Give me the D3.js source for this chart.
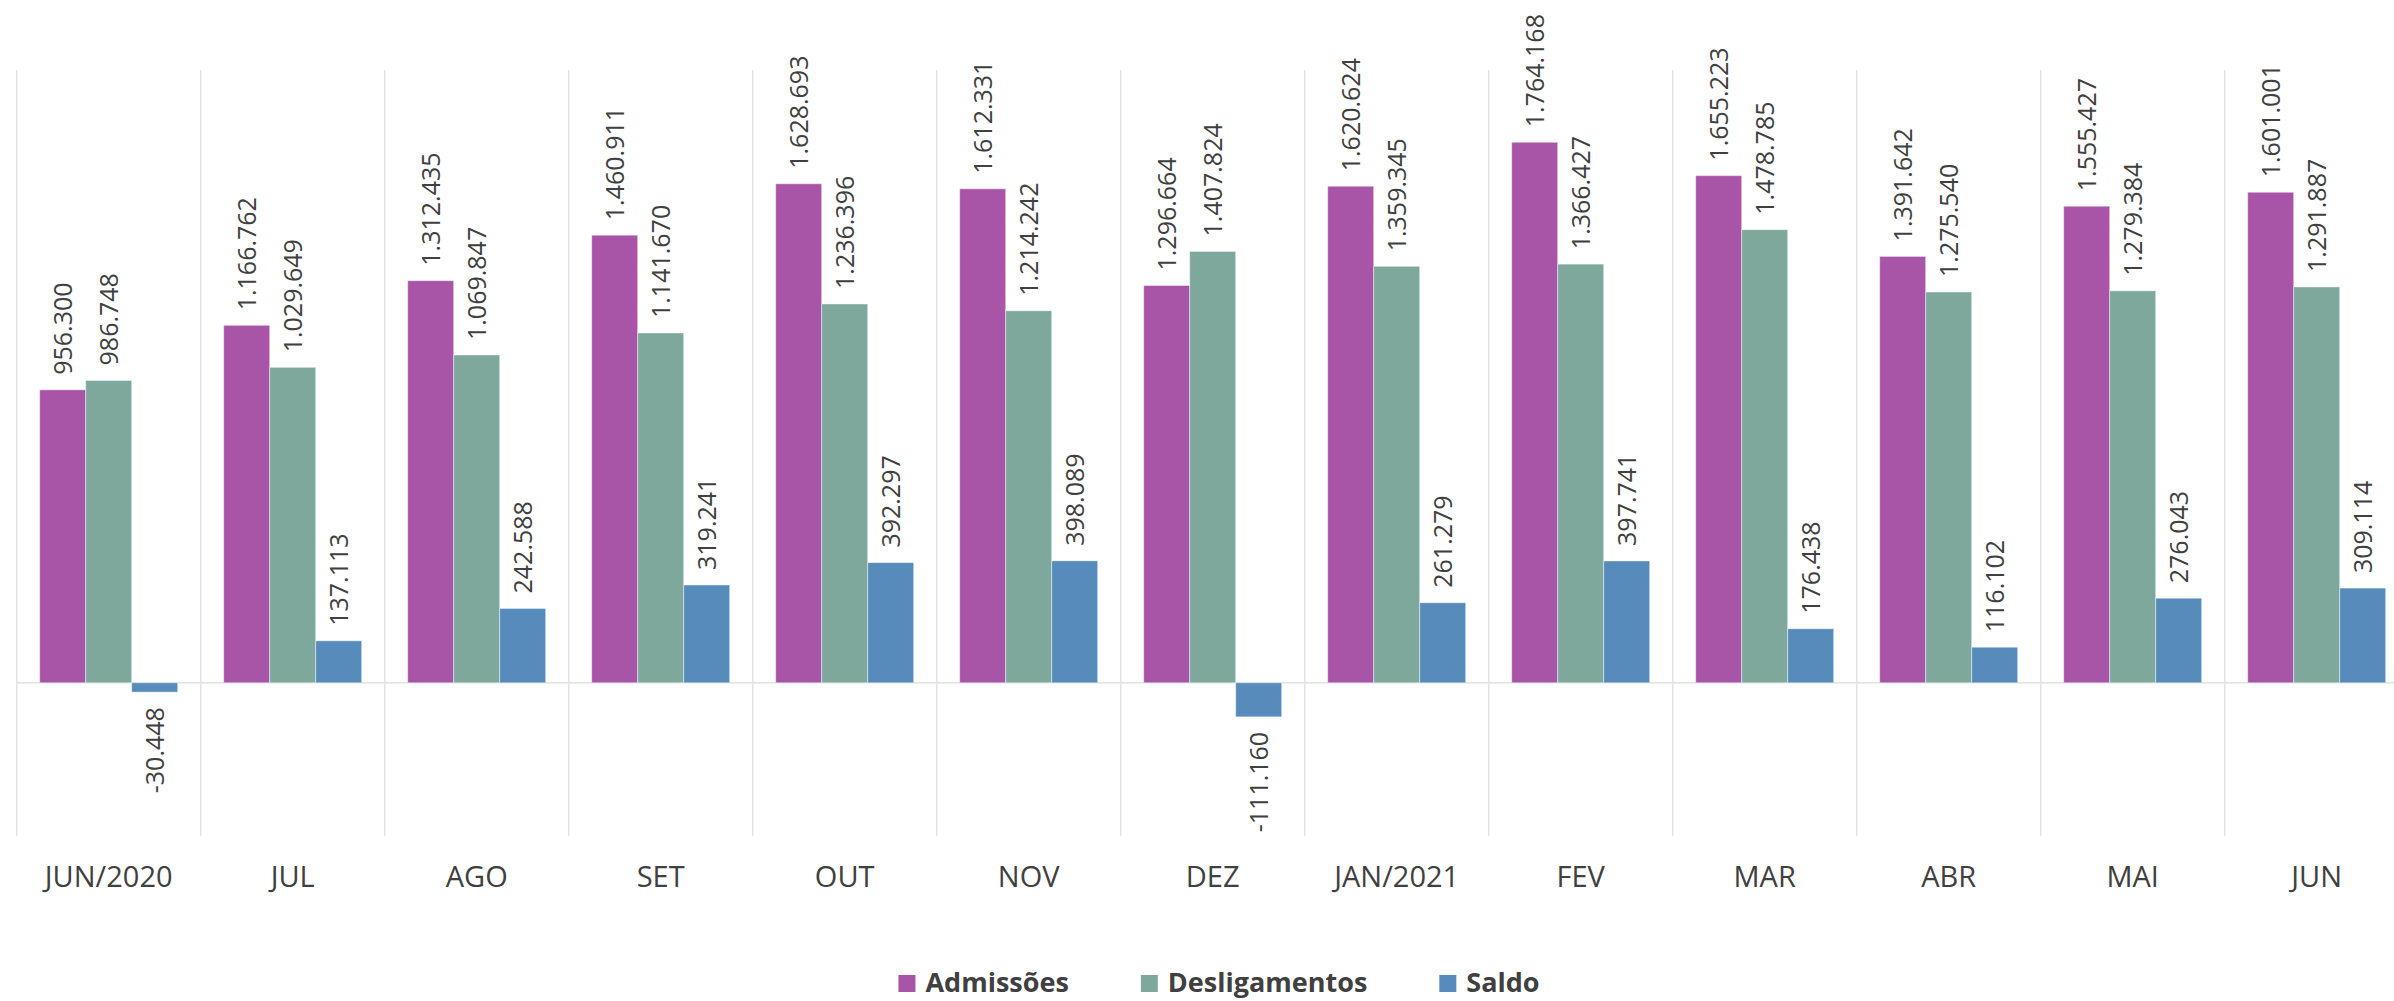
<!DOCTYPE html>
<html>
<head>
<meta charset="utf-8">
<script src="https://cdn.jsdelivr.net/npm/d3@7"></script>
<style>
  body { margin: 0; background: #fff; }
  svg { display: block; }
</style>
</head>
<body>
<div id="chart"></div>
<script>
// Data
var categories = ["JUN/2020", "JUL", "AGO", "SET", "OUT", "NOV", "DEZ", "JAN/2021", "FEV", "MAR", "ABR", "MAI", "JUN"];
var seriesNames = ["Admissões", "Desligamentos", "Saldo"];
var admissoes = [956300, 1166762, 1312435, 1460911, 1628693, 1612331, 1296664, 1620624, 1764168, 1655223, 1391642, 1555427, 1601001];
var desligamentos = [986748, 1029649, 1069847, 1141670, 1236396, 1214242, 1407824, 1359345, 1366427, 1478785, 1275540, 1279384, 1291887];
var saldo = [-30448, 137113, 242588, 319241, 392297, 398089, -111160, 261279, 397741, 176438, 116102, 276043, 309114];
var colors = ["#a855a8", "#7ea89c", "#568bbb"];

var width = 2394, height = 1001;
var textColor = "#404040";
var gridColor = "#e2e2e2";

var ptBR = d3.formatLocale({decimal: ",", thousands: ".", grouping: [3], currency: ["R$", ""], minus: "-"});
var fmt = ptBR.format(",d");

var svg = d3.select("#chart").append("svg")
    .attr("width", width)
    .attr("height", height);

// Scales
var step = 184, left = 16.7;
var x = d3.scaleBand()
    .domain(categories)
    .range([left, left + step * categories.length])
    .paddingInner(0).paddingOuter(0);
var xs = d3.scaleBand()
    .domain(seriesNames)
    .range([0, x.bandwidth()])
    .paddingInner(0).paddingOuter(0.5);
var y = d3.scaleLinear()
    .domain([-500000, 2000000])
    .range([836, 70]);

// Vertical category separators
svg.append("g").selectAll("line")
    .data(categories)
    .join("line")
    .attr("x1", function(d) { return x(d); })
    .attr("x2", function(d) { return x(d); })
    .attr("y1", y(2000000))
    .attr("y2", y(-500000))
    .attr("stroke", gridColor)
    .attr("stroke-width", 1.5);

// Zero line
svg.append("line")
    .attr("x1", left)
    .attr("x2", width)
    .attr("y1", y(0))
    .attr("y2", y(0))
    .attr("stroke", gridColor)
    .attr("stroke-width", 1.5);

// Build rows
var rows = [];
categories.forEach(function(c, i) {
    [admissoes, desligamentos, saldo].forEach(function(arr, j) {
        rows.push({cat: c, series: seriesNames[j], value: arr[i], color: colors[j]});
    });
});

// Bars
svg.append("g").selectAll("rect")
    .data(rows)
    .join("rect")
    .attr("x", function(d) { return x(d.cat) + xs(d.series); })
    .attr("width", xs.bandwidth())
    .attr("y", function(d) { return y(Math.max(0, d.value)); })
    .attr("height", function(d) { return Math.abs(y(d.value) - y(0)); })
    .attr("fill", function(d) { return d.color; })
    .attr("stroke", "#ffffff")
    .attr("stroke-opacity", 0.45)
    .attr("stroke-width", 1);

// Value labels (rotated)
svg.append("g").selectAll("text")
    .data(rows)
    .join("text")
    .attr("transform", function(d) {
        var cx = x(d.cat) + xs(d.series) + xs.bandwidth() / 2;
        var yy = d.value >= 0 ? y(d.value) - 15 : y(d.value) + 15;
        return "translate(" + cx + "," + yy + ") rotate(-90)";
    })
    .attr("dy", "0.36em")
    .attr("text-anchor", function(d) { return d.value >= 0 ? "start" : "end"; })
    .attr("font-family", "'Open Sans', sans-serif")
    .attr("font-size", 25)
    .attr("fill", textColor)
    .text(function(d) { return fmt(d.value); });

// Category labels
svg.append("g").selectAll("text")
    .data(categories)
    .join("text")
    .attr("x", function(d) { return x(d) + x.bandwidth() / 2; })
    .attr("y", 887)
    .attr("text-anchor", "middle")
    .attr("font-family", "'Open Sans', sans-serif")
    .attr("font-size", 29)
    .attr("fill", textColor)
    .text(function(d) { return d; });

// Legend
var legend = svg.append("g");
var items = legend.selectAll("g")
    .data(seriesNames)
    .join("g");
items.append("rect")
    .attr("width", 17)
    .attr("height", 17)
    .attr("y", 975)
    .attr("fill", function(d, i) { return colors[i]; });
items.append("text")
    .attr("x", 27)
    .attr("y", 992)
    .attr("font-family", "'Open Sans', sans-serif")
    .attr("font-weight", "bold")
    .attr("font-size", 27)
    .attr("fill", textColor)
    .text(function(d) { return d; });

var gap = 72, pos = 0, offsets = [];
items.each(function() {
    offsets.push(pos);
    pos += this.getBBox().width + gap;
});
var total = pos - gap;
var startX = 1219 - total / 2;
items.attr("transform", function(d, i) { return "translate(" + (startX + offsets[i]) + ",0)"; });
</script>
</body>
</html>
